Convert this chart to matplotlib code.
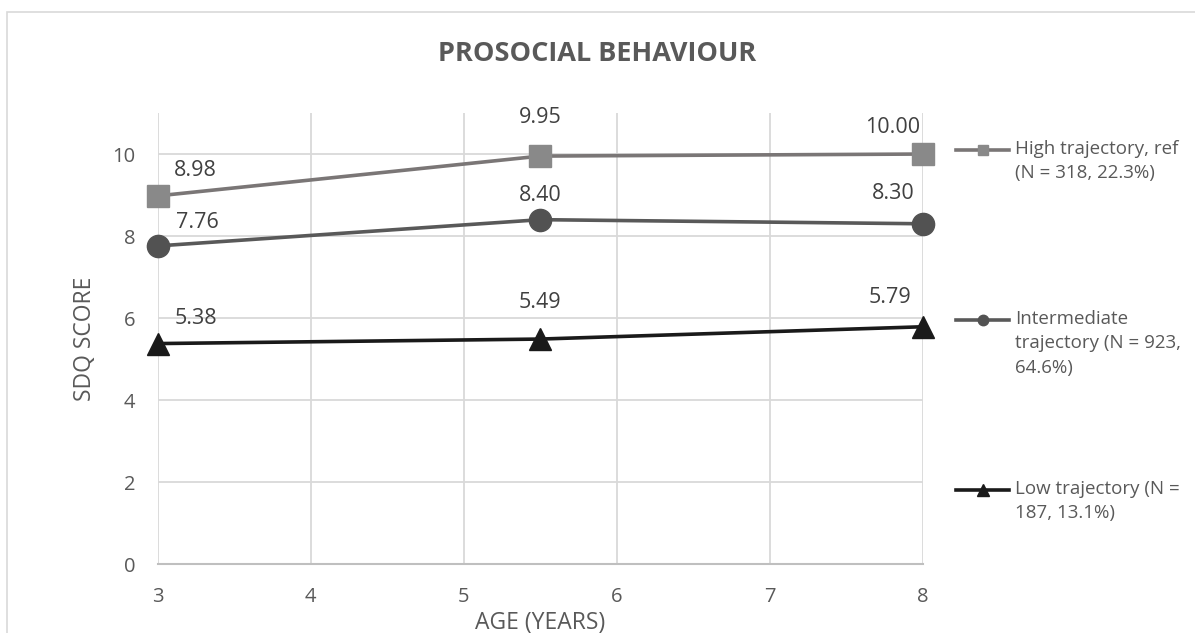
import matplotlib.pyplot as plt
from matplotlib.lines import Line2D
from matplotlib.patches import Rectangle

plt.rcParams['font.family'] = ['Open Sans', 'DejaVu Sans']

ages = [3, 5.5, 8]
high = [8.98, 9.95, 10.00]
intermediate = [7.76, 8.40, 8.30]
low = [5.38, 5.49, 5.79]

names = ["High trajectory, ref\n(N = 318, 22.3%)",
         "Intermediate\ntrajectory (N = 923,\n64.6%)",
         "Low trajectory (N =\n187, 13.1%)"]

# label offsets (pixels) for the value labels of each series
offsets = [
    [(38, 25), (0, 39), (-30, 27)],
    [(40, 23), (0, 24), (-30, 30)],
    [(38, 25), (0, 37), (-33, 29)],
]

styles = [
    dict(color="#7a7676", marker="s", mfc="#898989", mec="#898989", ms=15.5),
    dict(color="#595959", marker="o", mfc="#525252", mec="#525252", ms=16),
    dict(color="#1a1a1a", marker="^", mfc="#1a1a1a", mec="#1a1a1a", ms=16),
]
legend_ms = [7, 7.5, 8.5]

W, H = 1195, 633
fig = plt.figure(figsize=(W / 100, H / 100), dpi=100)
ax = fig.add_axes([157.7 / W, 1 - 564.3 / H, (923 - 157.7) / W, (564.3 - 113) / H])

grid_c = "#d9d9d9"
text_c = "#595959"

for series, st, offs in zip([high, intermediate, low], styles, offsets):
    ax.plot(ages, series, lw=2.6, zorder=3, clip_on=False, **st)
    for x, y, (dx, dy) in zip(ages, series, offs):
        ax.annotate(f"{y:.2f}", (x, y), xytext=(dx, dy), textcoords="offset pixels",
                    ha="center", va="center", fontsize=15.5, color="#404040")

ax.set_xlim(3, 8)
ax.set_ylim(0, 11)
ax.set_xticks(range(3, 9))
ax.set_yticks(range(0, 11, 2))
ax.grid(True, color=grid_c, lw=1.3)
ax.set_axisbelow(True)
for s in ["top", "right", "left"]:
    ax.spines[s].set_visible(False)
ax.spines["bottom"].set_color("#bfbfbf")
ax.spines["bottom"].set_linewidth(1.5)
ax.tick_params(length=0, labelsize=14.5, labelcolor=text_c)
ax.tick_params(axis="y", pad=16)
ax.tick_params(axis="x", pad=16)

ax.set_xlabel("AGE (YEARS)", fontsize=16.5, color=text_c, labelpad=3)
ax.set_ylabel("SDQ SCORE", fontsize=16.5, color=text_c, labelpad=11)

fig.text(0.5, 1 - 54 / H, "PROSOCIAL BEHAVIOUR", ha="center", va="center",
         fontsize=19.5, fontweight="bold", color=text_c)

# legend on the right, handle aligned with the first text line
leg_y = [150, 320, 490]
for name, st, ms, yp in zip(names, styles, legend_ms, leg_y):
    yf = 1 - yp / H
    fig.add_artist(Line2D([956 / W, 1009 / W], [yf, yf], color=st["color"], lw=2.6))
    fig.add_artist(Line2D([982.5 / W], [yf], marker=st["marker"], ms=ms,
                          mfc=st["mfc"], mec=st["mec"], lw=0))
    fig.text(1015 / W, yf + 10 / H, name, ha="left", va="top", fontsize=13.5,
             color=text_c, linespacing=1.45)

# chart border
fig.add_artist(Rectangle((7 / W, -0.1), 1.2, 1 - 11.7 / H + 0.1,
                         transform=fig.transFigure, fill=False, ec=grid_c, lw=1.2))

fig.savefig("out.png", dpi=100)
